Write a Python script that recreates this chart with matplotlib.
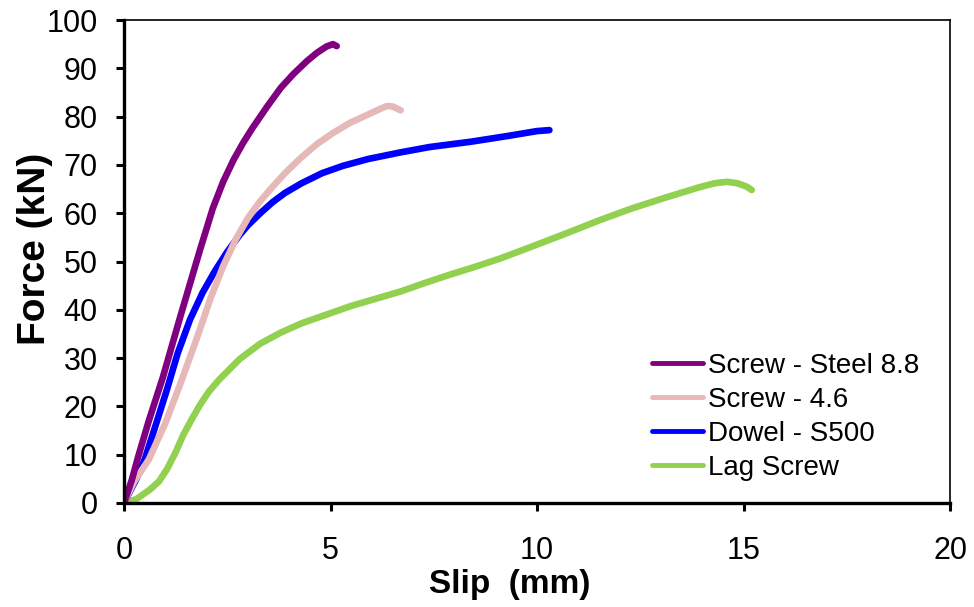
import matplotlib
matplotlib.use("Agg")
import matplotlib.pyplot as plt

plt.rcParams['font.family'] = ['Liberation Sans', 'DejaVu Sans']

# slip (mm) / force (kN)
steel88_slip = [0, 0.19, 0.34, 0.6, 0.94, 1.36, 1.84, 2.15, 2.4, 2.65, 2.88, 3.1, 3.46, 3.8, 4.1, 4.43, 4.67, 4.9, 5.06, 5.15]
steel88_force = [0, 4.8, 9.5, 17, 26, 38.5, 52.4, 61, 66.5, 71, 74.5, 77.5, 82, 86, 88.8, 91.5, 93.2, 94.5, 95, 94.6]

screw46_slip = [0, 0.25, 0.6, 1.0, 1.4, 1.8, 2.1, 2.4, 2.7, 3.0, 3.3, 3.6, 3.9, 4.26, 4.67, 5.06, 5.47, 5.9, 6.2, 6.37, 6.5, 6.7]
screw46_force = [0, 4.5, 9, 16.5, 25.5, 35, 42.5, 49, 54.5, 59, 62.5, 65.5, 68.3, 71.3, 74.3, 76.6, 78.7, 80.4, 81.6, 82.2, 82.1, 81.3]

dowel_slip = [0, 0.3, 0.5, 0.8, 1.04, 1.3, 1.6, 1.9, 2.2, 2.5, 2.8, 3.0, 3.3, 3.6, 3.9, 4.3, 4.8, 5.3, 5.9, 6.7, 7.4, 8.4, 9.3, 10.0, 10.3]
dowel_force = [0, 5, 9, 17, 23.5, 31, 38, 43.5, 48, 52, 55.5, 57.5, 60, 62.3, 64.2, 66.2, 68.3, 69.8, 71.2, 72.6, 73.7, 74.8, 76, 77, 77.2]

lag_slip = [0, 0.3, 0.63, 0.85, 1.04, 1.25, 1.43, 1.65, 1.84, 2.05, 2.3, 2.8, 3.3, 3.8, 4.3, 5.0, 5.5, 6.1, 6.7, 7.3,
            7.9, 8.5, 9.1, 9.6, 10.0, 10.7, 11.5, 12.3, 13.1, 13.9, 14.3, 14.6, 14.85, 15.08, 15.2]
lag_force = [0, 0.8, 2.8, 4.5, 7, 10.5, 14, 17.5, 20.3, 23, 25.5, 29.8, 33, 35.3, 37.2, 39.3, 40.8, 42.3, 43.8, 45.6,
             47.3, 48.9, 50.6, 52.2, 53.5, 55.8, 58.5, 61, 63.2, 65.3, 66.2, 66.5, 66.2, 65.5, 64.8]

labels = ['Screw - Steel 8.8', 'Screw - 4.6', 'Dowel - S500', 'Lag Screw']
colors = ['#800080', '#E6B9B8', '#0000FF', '#92D050']
xticks = [0, 5, 10, 15, 20]
yticks = list(range(0, 101, 10))

fig = plt.figure(figsize=(9.74, 6.07), dpi=100)
ax = fig.add_axes([124 / 974, 1 - 503 / 607, (950 - 124) / 974, (503 - 20) / 607])

series = [(steel88_slip, steel88_force), (screw46_slip, screw46_force),
          (dowel_slip, dowel_force), (lag_slip, lag_force)]
# draw in reverse so purple sits on top, like the original
for (x, y), lab, col in reversed(list(zip(series, labels, colors))):
    ax.plot(x, y, color=col, lw=4.8, label=lab, solid_capstyle='round', solid_joinstyle='round')

ax.set_xlim(0, 20)
ax.set_ylim(0, 100)
ax.set_xticks(xticks)
ax.set_yticks(yticks)

ax.spines['left'].set_linewidth(2.4)
ax.spines['bottom'].set_linewidth(2.4)
ax.spines['top'].set_linewidth(1.2)
ax.spines['right'].set_linewidth(1.2)
ax.tick_params(axis='both', direction='out', length=6, width=2.2, labelsize=22)
ax.tick_params(axis='x', pad=18)
ax.tick_params(axis='y', pad=13)

ax.set_xlabel('Slip  (mm)', fontsize=24, fontweight='bold')
ax.xaxis.set_label_coords(0.467, -0.168)
ax.set_ylabel('Force (kN)', fontsize=28, fontweight='bold')
ax.yaxis.set_label_coords(-0.108, 0.526)
ax.xaxis.label.set_va('center')
ax.yaxis.label.set_va('center')

handles, labs = ax.get_legend_handles_labels()
leg = ax.legend(handles[::-1], labs[::-1], loc='upper left', frameon=False,
                bbox_to_anchor=(652 / 974, 1 - 353 / 607), bbox_transform=fig.transFigure,
                fontsize=20, borderpad=0, borderaxespad=0, labelspacing=0.29,
                handlelength=1.83, handletextpad=0.18)
for line in leg.get_lines():
    line.set_linewidth(3.5)
    line.set_solid_capstyle('round')

fig.savefig('out.png', dpi=100)
